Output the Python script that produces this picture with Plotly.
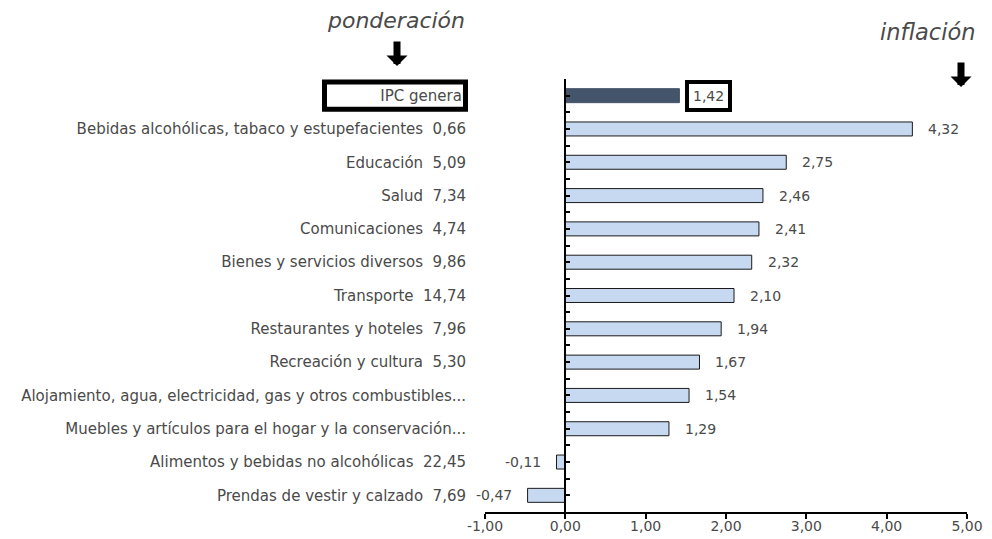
import plotly.graph_objects as go

categories = [
    "IPC general",
    "Bebidas alcohólicas, tabaco y estupefacientes",
    "Educación",
    "Salud",
    "Comunicaciones",
    "Bienes y servicios diversos",
    "Transporte",
    "Restaurantes y hoteles",
    "Recreación y cultura",
    "Alojamiento, agua, electricidad, gas y otros combustibles...",
    "Muebles y artículos para el hogar y la conservación...",
    "Alimentos y bebidas no alcohólicas",
    "Prendas de vestir y calzado",
]
weights = [None, 0.66, 5.09, 7.34, 4.74, 9.86, 14.74, 7.96, 5.30, None, None, 22.45, 7.69]
inflation = [1.42, 4.32, 2.75, 2.46, 2.41, 2.32, 2.10, 1.94, 1.67, 1.54, 1.29, -0.11, -0.47]
x_ticks = [-1, 0, 1, 2, 3, 4, 5]

def fmt(v):
    return f"{v:.2f}".replace(".", ",")

FONT = "DejaVu Sans"
GREY = "#4a4a4a"
n = len(categories)
x_min, x_max = -1, 5

ticktext = [c if w is None else f"{c}\u00a0\u00a0{fmt(w)}" for c, w in zip(categories, weights)]
colors = ["#44546A"] + ["#C6D9F1"] * (n - 1)
line_colors = ["#44546A"] + ["#1a1a1a"] * (n - 1)

fig = go.Figure()
fig.add_trace(go.Bar(
    x=inflation, y=categories, orientation="h",
    marker=dict(color=colors, line=dict(color=line_colors, width=1)),
    width=0.42, hoverinfo="x+y",
))

annotations = []
for c, v in zip(categories, inflation):
    pos = v >= 0
    a = dict(x=v, y=c, xref="x", yref="y", text=fmt(v), showarrow=False,
             xanchor="left" if pos else "right", xshift=14 if pos else -14,
             font=dict(family=FONT, size=14, color=GREY))
    if c == categories[0]:
        a.update(bordercolor="black", borderwidth=4, borderpad=4, xshift=6)
    annotations.append(a)

annotations += [
    dict(x=(396 - 485) / 482, y=(512 - 21) / 433, xref="paper", yref="paper",
         xanchor="center", yanchor="middle", text="<i>ponderación</i>",
         showarrow=False, font=dict(family=FONT, size=22, color=GREY)),
    dict(x=(927 - 485) / 482, y=(512 - 32) / 433, xref="paper", yref="paper",
         xanchor="center", yanchor="middle", text="<i>inflación</i>",
         showarrow=False, font=dict(family=FONT, size=22.5, color=GREY)),
    dict(x=(397 - 485) / 482, y=(512 - 66) / 433, xref="paper", yref="paper", text="",
         showarrow=True, ax=0, ay=-26, arrowhead=1, arrowsize=0.5, arrowwidth=7, arrowcolor="black"),
    dict(x=(961 - 485) / 482, y=(512 - 87) / 433, xref="paper", yref="paper", text="",
         showarrow=True, ax=0, ay=-26, arrowhead=1, arrowsize=0.5, arrowwidth=7, arrowcolor="black"),
]

row_c = 1 - 0.5 / n
shapes = [dict(type="rect", xref="paper", yref="paper",
               x0=(324.5 - 485) / 482, x1=(465.5 - 485) / 482,
               y0=row_c - 0.41 / n, y1=row_c + 0.41 / n,
               line=dict(color="black", width=5), layer="above")]

fig.update_layout(
    width=992, height=539,
    margin=dict(l=485, r=25, t=79, b=27, autoexpand=False),
    plot_bgcolor="white", paper_bgcolor="white",
    showlegend=False,
    font=dict(family=FONT, size=14, color=GREY),
    xaxis=dict(range=[x_min, x_max], tickvals=x_ticks, ticktext=[fmt(v) for v in x_ticks],
               automargin=False,
               showgrid=False, zeroline=False, showline=True, linecolor="black", linewidth=2,
               ticks="outside", ticklen=5, tickwidth=2, tickcolor="black", ticklabelstandoff=-5,
               tickfont=dict(family=FONT, size=14, color=GREY)),
    yaxis=dict(type="category", categoryorder="array", categoryarray=categories,
               range=[n - 0.5, -0.5], tickvals=categories, ticktext=ticktext,
               automargin=False,
               showgrid=False, zeroline=False, showline=False, ticks="",
               ticklabelstandoff=18, tickfont=dict(family=FONT, size=15, color=GREY)),
    yaxis2=dict(overlaying="y", anchor="free", position=(0 - x_min) / (x_max - x_min),
                range=[n - 0.5, -0.5], tickvals=[k / 2 - 0.5 for k in range(2 * n + 1)],
                automargin=False,
                showticklabels=False, showgrid=False, zeroline=False, showline=True,
                linecolor="black", linewidth=2, ticks="inside", ticklen=4, tickwidth=2,
                tickcolor="black"),
    annotations=annotations,
    shapes=shapes,
    bargap=0.58,
)
fig.add_trace(go.Scatter(x=[None], y=[None], yaxis="y2", showlegend=False))

fig.write_html("out.html", config={"displayModeBar": False},
               post_script="document.body.style.margin='0';document.body.style.overflow='hidden';")
